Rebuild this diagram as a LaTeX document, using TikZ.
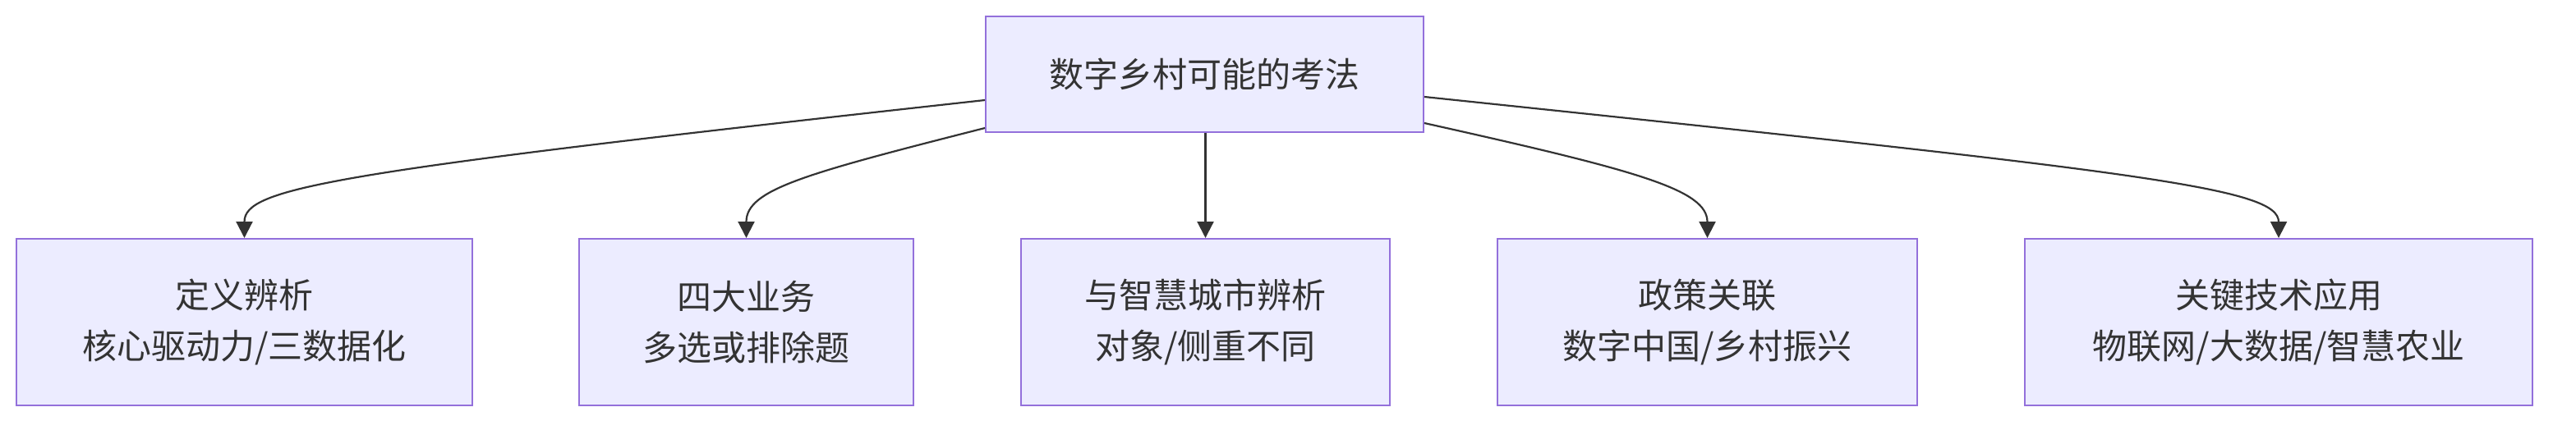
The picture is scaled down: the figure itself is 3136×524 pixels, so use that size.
\documentclass[tikz,border=0pt]{standalone}
\usepackage{fontspec}
\setmainfont{Noto Sans CJK SC}
\usetikzlibrary{arrows.meta}
\definecolor{boxfill}{HTML}{ECECFF}
\definecolor{boxline}{HTML}{9370DB}
\definecolor{ink}{HTML}{333333}
\begin{document}
\begin{tikzpicture}[x=0.5pt,y=-0.5pt,
  box/.style={draw=boxline, fill=boxfill, line width=1pt, inner sep=0pt,
    text=ink, align=center, font=\fontsize{21pt}{31pt}\selectfont},
  link/.style={draw=ink, line width=1.1pt, -{Triangle[length=10pt,width=10pt]}}]
\useasboundingbox (0,0) rectangle (3136,524);
\node[box, minimum width=266.5pt, minimum height=70.5pt] (top) at (1466.5,90.5) {数字乡村可能的考法};
\node[box, minimum width=277.5pt, minimum height=101.5pt] (n1) at (297.5,392.5) {定义辨析\\核心驱动力/三数据化};
\node[box, minimum width=203.5pt, minimum height=101.5pt] (n2) at (908.5,392.5) {四大业务\\多选或排除题};
\node[box, minimum width=224.5pt, minimum height=101.5pt] (n3) at (1467.5,392.5) {与智慧城市辨析\\对象/侧重不同};
\node[box, minimum width=255.5pt, minimum height=101.5pt] (n4) at (2078.5,392.5) {政策关联\\数字中国/乡村振兴};
\node[box, minimum width=309pt, minimum height=101.5pt] (n5) at (2774,392.5) {关键技术应用\\物联网/大数据/智慧农业};
\draw[link] ([yshift=-15.75pt]top.west) .. controls +(-800,88) and +(0,-61) .. (n1.north);
\draw[link] ([yshift=-32.75pt]top.west) .. controls +(-220,56) and +(0,-59) .. (n2.north);
\draw[link] (top.south -| n3.north) -- (n3.north);
\draw[link] ([yshift=-29.75pt]top.east) .. controls +(260,58) and +(0,-59) .. (n4.north);
\draw[link] ([yshift=-13.75pt]top.east) .. controls +(880,92) and +(0,-61) .. (n5.north);
\end{tikzpicture}
\end{document}
